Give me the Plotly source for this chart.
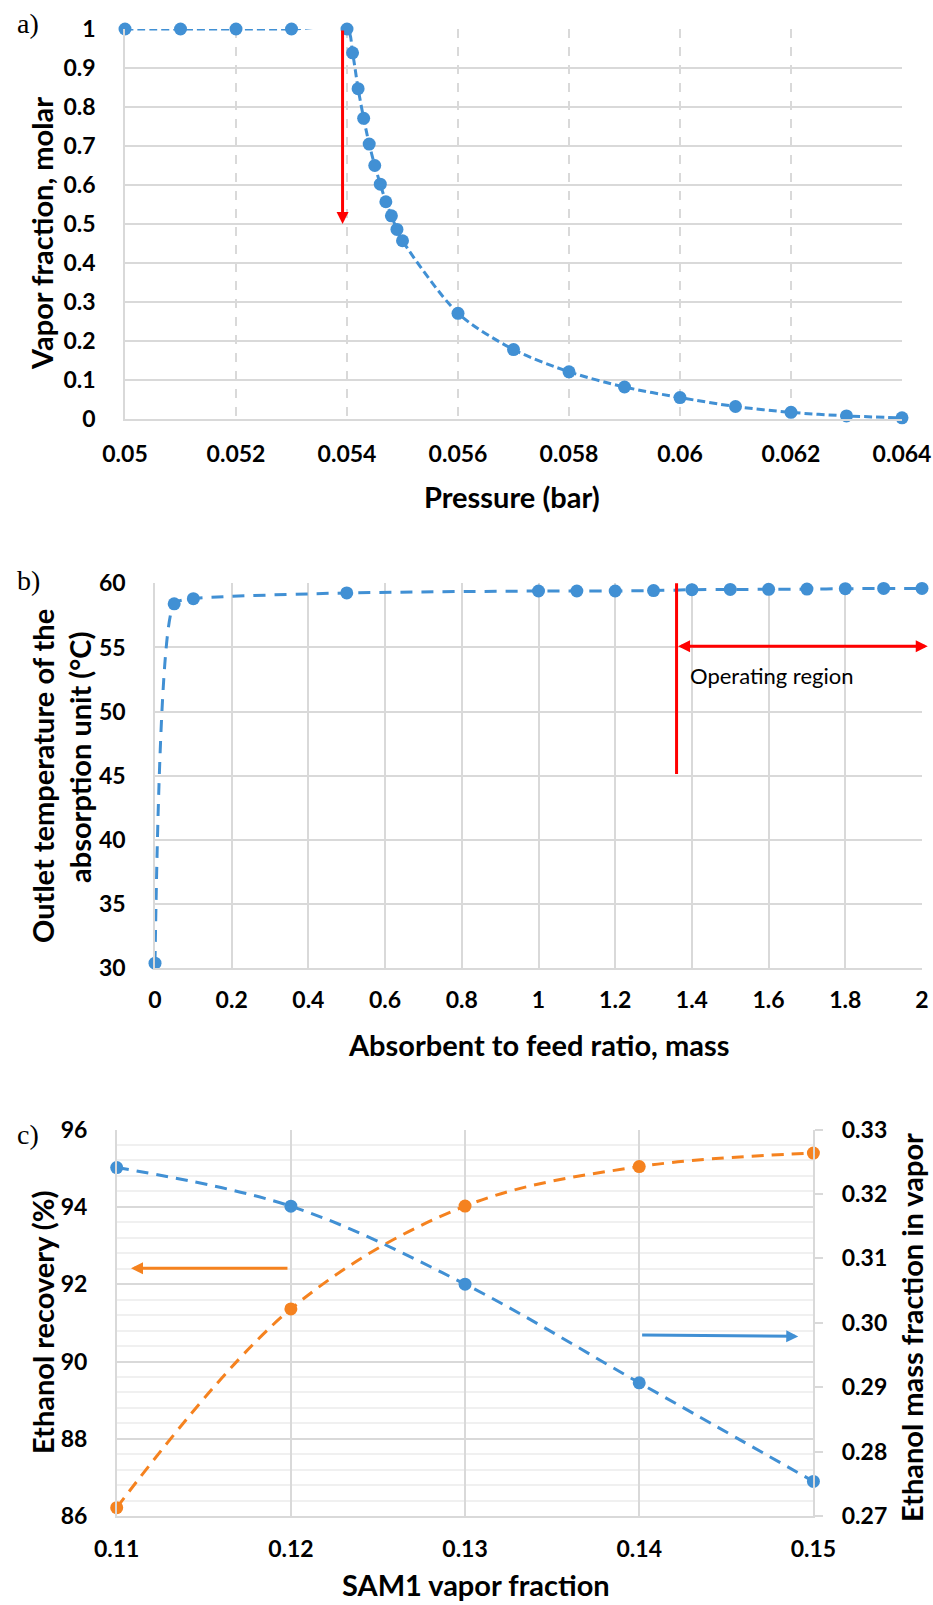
import plotly.graph_objects as go

# ---- a) vapor fraction vs pressure ----
pressure_bar = [0.05, 0.051, 0.052, 0.053, 0.054, 0.0541, 0.0542, 0.0543, 0.0544,
                0.0545, 0.0546, 0.0547, 0.0548, 0.0549, 0.055, 0.056, 0.057, 0.058,
                0.059, 0.060, 0.061, 0.062, 0.063, 0.064]
vapor_fraction = [1.0, 1.0, 1.0, 1.0, 1.0, 0.939, 0.847, 0.771, 0.705,
                  0.650, 0.602, 0.557, 0.521, 0.486, 0.457, 0.271, 0.178, 0.121,
                  0.082, 0.055, 0.032, 0.017, 0.008, 0.003]
a_xticks = [0.05, 0.052, 0.054, 0.056, 0.058, 0.06, 0.062, 0.064]
a_xlabels = ["0.05", "0.052", "0.054", "0.056", "0.058", "0.06", "0.062", "0.064"]
a_yticks = [0, 0.1, 0.2, 0.3, 0.4, 0.5, 0.6, 0.7, 0.8, 0.9, 1]
a_ylabels = ["0", "0.1", "0.2", "0.3", "0.4", "0.5", "0.6", "0.7", "0.8", "0.9", "1"]

# ---- b) outlet temperature vs absorbent/feed ratio ----
feed_ratio = [0, 0.05, 0.1, 0.5, 1.0, 1.1, 1.2, 1.3, 1.4, 1.5, 1.6, 1.7, 1.8, 1.9, 2.0]
outlet_temp = [30.4, 58.4, 58.8, 59.25, 59.4, 59.4, 59.4, 59.43, 59.5, 59.52,
               59.53, 59.55, 59.58, 59.6, 59.6]
b_xticks = [0, 0.2, 0.4, 0.6, 0.8, 1, 1.2, 1.4, 1.6, 1.8, 2]
b_xlabels = ["0", "0.2", "0.4", "0.6", "0.8", "1", "1.2", "1.4", "1.6", "1.8", "2"]
b_yticks = [30, 35, 40, 45, 50, 55, 60]
operating_start = 1.36

# ---- c) ethanol recovery and vapor mass fraction vs SAM1 vapor fraction ----
sam1_vf = [0.11, 0.12, 0.13, 0.14, 0.15]
ethanol_recovery = [86.22, 91.36, 94.02, 95.04, 95.39]
ethanol_mass_frac = [0.3241, 0.3181, 0.3060, 0.2907, 0.2754]
c_xticks = [0.11, 0.12, 0.13, 0.14, 0.15]
c_xlabels = ["0.11", "0.12", "0.13", "0.14", "0.15"]
c_yticks = [86, 88, 90, 92, 94, 96]
c_y2ticks = [0.27, 0.28, 0.29, 0.30, 0.31, 0.32, 0.33]
c_y2labels = ["0.27", "0.28", "0.29", "0.30", "0.31", "0.32", "0.33"]

W, H = 933, 1605
BLUE = "#4190d4"
ORANGE = "#f5821f"
RED = "#ff0000"
GRID = "#d9d9d9"
MINOR = "#f0f0f0"
FONT = "Lato"
TICK_FONT = dict(family=FONT, size=23, color="#000", weight="bold")
TITLE_FONT = dict(family=FONT, size=29, color="#000", weight="bold")


def px_x(p):
    return p / W


def px_y(p):
    return 1 - p / H


fig = go.Figure()

fig.add_trace(go.Scatter(
    x=pressure_bar, y=vapor_fraction, xaxis="x", yaxis="y",
    mode="lines+markers", line=dict(color=BLUE, width=3, dash="8px,4px", shape="spline", smoothing=0.8),
    marker=dict(color=BLUE, size=13), cliponaxis=False, showlegend=False))

fig.add_trace(go.Scatter(
    x=feed_ratio, y=outlet_temp, xaxis="x2", yaxis="y2",
    mode="lines+markers", line=dict(color=BLUE, width=3, dash="12px,9px", shape="spline", smoothing=0.6),
    marker=dict(color=BLUE, size=13), cliponaxis=False, showlegend=False))

fig.add_trace(go.Scatter(
    x=sam1_vf, y=ethanol_mass_frac, xaxis="x3", yaxis="y4",
    mode="lines+markers", line=dict(color=BLUE, width=3, dash="12px,8px", shape="spline", smoothing=1),
    marker=dict(color=BLUE, size=13), cliponaxis=False, showlegend=False))

fig.add_trace(go.Scatter(
    x=sam1_vf, y=ethanol_recovery, xaxis="x3", yaxis="y3",
    mode="lines+markers", line=dict(color=ORANGE, width=3, dash="12px,8px", shape="spline", smoothing=1),
    marker=dict(color=ORANGE, size=13), cliponaxis=False, showlegend=False))

axis_common = dict(ticks="", tickfont=TICK_FONT, zeroline=False, showline=True, automargin=False,
                   linecolor=GRID, linewidth=1.5, gridcolor=GRID, gridwidth=1.5)

fig.update_layout(
    width=W, height=H, margin=dict(l=0, r=0, t=0, b=0, pad=0, autoexpand=False),
    paper_bgcolor="white", plot_bgcolor="white",
    xaxis=dict(domain=[px_x(125), px_x(902)], anchor="y", range=[0.05, 0.064],
               tickvals=a_xticks, ticktext=a_xlabels, griddash="dash",
               ticklabelstandoff=14, **axis_common),
    yaxis=dict(domain=[px_y(419), px_y(29)], anchor="x", range=[0, 1],
               tickvals=a_yticks, ticktext=a_ylabels, ticklabelstandoff=23, **axis_common),
    xaxis2=dict(domain=[px_x(155), px_x(922)], anchor="y2", range=[0, 2],
                tickvals=b_xticks, ticktext=b_xlabels, ticklabelstandoff=10, **axis_common),
    yaxis2=dict(domain=[px_y(968.3), px_y(583.3)], anchor="x2", range=[30, 60],
                tickvals=b_yticks, ticklabelstandoff=23, **axis_common),
    xaxis3=dict(domain=[px_x(116.7), px_x(813.4)], anchor="y3", range=[0.11, 0.15],
                tickvals=c_xticks, ticktext=c_xlabels, ticklabelstandoff=11, **axis_common),
    yaxis3=dict(domain=[px_y(1516.2), px_y(1129.5)], anchor="x3", range=[86, 96],
                tickvals=c_yticks, ticklabelstandoff=23,
                minor=dict(dtick=0.4, tick0=86, showgrid=True, gridcolor=MINOR, gridwidth=1.5),
                **axis_common),
    yaxis4=dict(overlaying="y3", anchor="x3", side="right", range=[0.27, 0.33],
                tickvals=c_y2ticks, ticktext=c_y2labels, showgrid=False, automargin=False,
                ticks="outside", ticklen=8, tickcolor=GRID, tickwidth=1.5,
                ticklabelstandoff=14, tickfont=TICK_FONT, zeroline=False,
                showline=True, linecolor=GRID, linewidth=1.5),
)

annotations = []

# panel letters
for label, yc in (("a)", 23), ("b)", 580), ("c)", 1134)):
    annotations.append(dict(text=label, xref="paper", yref="paper", x=px_x(28), y=px_y(yc),
                            xanchor="center", yanchor="middle", showarrow=False,
                            font=dict(family="Liberation Serif", size=28, color="#000")))


def title(text, xc, yc, angle=0):
    annotations.append(dict(text=text, xref="paper", yref="paper", x=px_x(xc), y=px_y(yc),
                            xanchor="center", yanchor="middle", showarrow=False,
                            textangle=angle, font=TITLE_FONT))


title("Vapor fraction, molar", 42, 234, -90)
title("Pressure (bar)", 512, 496)
title("Outlet temperature of the", 42, 776, -90)
title("absorption unit (°C)", 80, 758, -90)
title("Absorbent to feed ratio, mass", 538, 1044)
title("Ethanol recovery (%)", 42, 1323, -90)
title("SAM1 vapor fraction", 476, 1584)
title("Ethanol mass fraction in vapor", 911, 1328, -90)

# a) arrow marking the dew point
annotations.append(dict(x=0.05392, y=0.50, ax=0.05392, ay=1.0, xref="x", yref="y",
                        axref="x", ayref="y", text="", showarrow=True, arrowhead=2,
                        arrowsize=0.8, arrowwidth=3, arrowcolor=RED, standoff=0))

# b) operating region double arrow and label
annotations.append(dict(x=2.015, y=55.1, ax=operating_start, ay=55.1, xref="x2", yref="y2",
                        axref="x2", ayref="y2", text="", showarrow=True, arrowhead=2,
                        startarrowhead=2, arrowside="end+start", arrowsize=0.8,
                        startarrowsize=0.8, arrowwidth=3, arrowcolor=RED, standoff=0,
                        startstandoff=0))
annotations.append(dict(x=1.39, y=52.8, xref="x2", yref="y2", text="Operating region",
                        showarrow=False, xanchor="left", yanchor="middle",
                        font=dict(family=FONT, size=22, color="#000")))

# c) arrows pointing to each series' axis
annotations.append(dict(x=0.11082, y=92.41, ax=0.11989, ay=92.41, xref="x3", yref="y3",
                        axref="x3", ayref="y3", text="", showarrow=True, arrowhead=2,
                        arrowsize=0.8, arrowwidth=3, arrowcolor=ORANGE, standoff=0))
annotations.append(dict(x=0.14913, y=0.2979, ax=0.14008, ay=0.2981, xref="x3", yref="y4",
                        axref="x3", ayref="y4", text="", showarrow=True, arrowhead=2,
                        arrowsize=0.8, arrowwidth=3, arrowcolor=BLUE, standoff=0))

fig.update_layout(annotations=annotations)

fig.add_shape(type="line", xref="x2", yref="y2", x0=operating_start, x1=operating_start,
              y0=45.15, y1=60.2, line=dict(color=RED, width=3))

fig.write_html("out.html")
